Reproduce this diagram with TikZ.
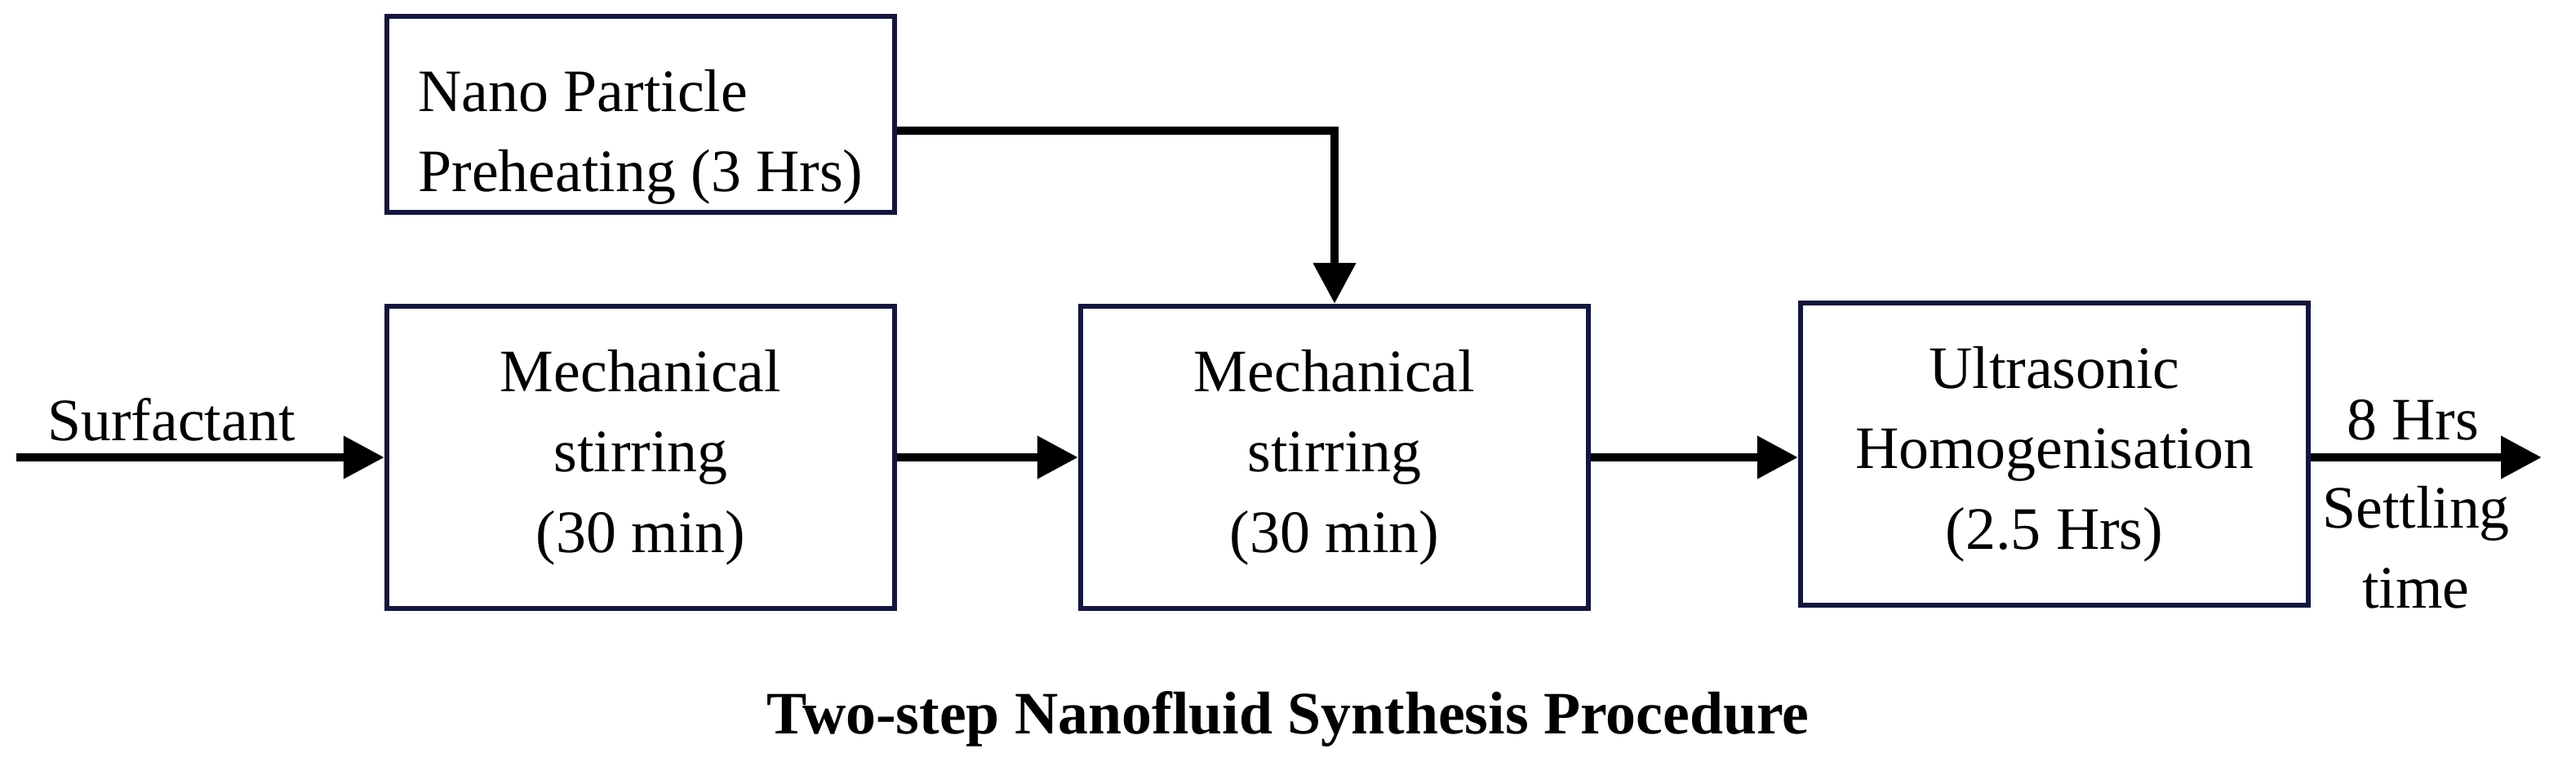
\documentclass[tikz,border=0pt]{standalone}
\usepackage{fontspec}
\setmainfont{Liberation Serif}
\usetikzlibrary{arrows.meta,positioning}
\definecolor{boxline}{RGB}{20,22,60}

\begin{document}
\begin{tikzpicture}[x=0.02cm, y=-0.02cm, font=\fontsize{21}{28}\selectfont]
\tikzstyle{stage}=[draw=boxline, line width=1.8pt, fill=white, minimum width=6.22cm, minimum height=3.7cm, align=center, inner sep=0pt]
\tikzstyle{flow}=[-{Triangle[length=0.5cm,width=0.5cm]}, line width=3pt, black]
\useasboundingbox (0,0) rectangle (1578,471.5);

\node[stage, minimum height=2.4cm] (nano) at (392.5,70) {};
\node[align=left] (nanotxt) at (392.5,84) {Nano Particle\\Preheating (3 Hrs)};
\node[stage] (mix1) at (392.5,280) {Mechanical\\stirring\\(30 min)};
\node[stage] (mix2) at (817.5,280) {Mechanical\\stirring\\(30 min)};
\node[stage] (sono) at (1258.5,278) {Ultrasonic\\Homogenisation\\(2.5 Hrs)};

\coordinate (in) at (10,280);
\coordinate (out) at (1557,280);
\node (surf) at (105,257) {Surfactant};
\node (hrs) at (1478,257) {8 Hrs};
\node[align=center] (settle) at (1480,335) {Settling\\time};

\draw[flow] (in) -- (mix1.west |- in);
\draw[flow] (mix1) -- (mix2);
\draw[flow] (mix2.east |- in) -- (sono.west |- in);
\draw[flow] (sono.east |- in) -- (out);
\draw[flow] (nano.east |- 0,80) -| (mix2.north);

\node[font=\fontsize{21}{28}\selectfont\bfseries] (title) at (789,440) {Two-step Nanofluid Synthesis Procedure};
\end{tikzpicture}
\end{document}
